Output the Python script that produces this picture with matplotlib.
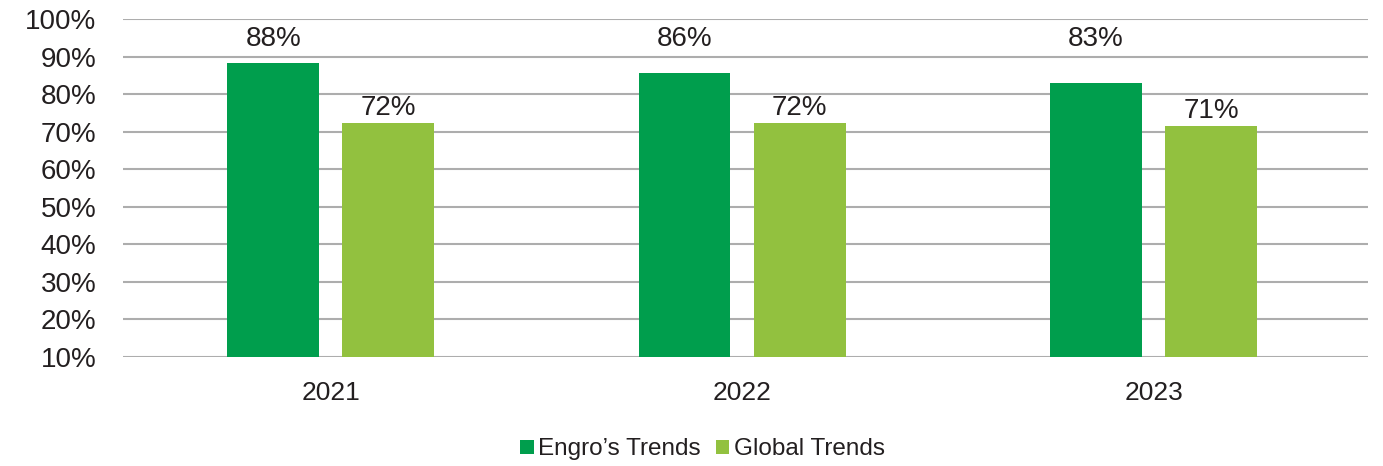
import matplotlib.pyplot as plt
import numpy as np

plt.rcParams['font.family'] = ['Liberation Sans', 'DejaVu Sans']

# dati
years = ['2021', '2022', '2023']
engro = [88.2, 85.6, 82.9]
engro_labels = ['88%', '86%', '83%']
global_trends = [72.2, 72.2, 71.4]
global_labels = ['72%', '72%', '71%']

dark = '#009E4D'
light = '#92C13F'
text_col = '#231F20'

fig = plt.figure(figsize=(13.83, 4.66), dpi=100)
ax = fig.add_axes([0.0889, 0.234, 0.9, 0.725])

x = np.arange(len(years))
w = 0.223
ax.bar(x - 0.14, engro, w, bottom=0, color=dark, label='Engro’s Trends', zorder=3)
ax.bar(x + 0.14, global_trends, w, bottom=0, color=light, label='Global Trends', zorder=3)

# etichette: quelle scure stanno a quota fissa, quelle chiare sopra la barra
for i in range(len(years)):
    ax.text(x[i] - 0.14, 94.8, engro_labels[i], ha='center', va='center',
            fontsize=20, color=text_col)
    ax.annotate(global_labels[i], (x[i] + 0.14, global_trends[i]),
                xytext=(0, 2), textcoords='offset points',
                ha='center', va='bottom', fontsize=20, color=text_col)

ax.set_xlim(-0.505, 2.52)
ax.set_ylim(10, 100)
ax.set_yticks(np.arange(10, 101, 10))
ax.set_yticklabels([f'{v}%' for v in range(10, 101, 10)])
ax.set_xticks(x)
ax.set_xticklabels(years)
ax.tick_params(axis='y', length=0, pad=19, labelsize=20, labelcolor=text_col)
ax.tick_params(axis='x', length=0, pad=17, labelsize=19, labelcolor=text_col)
ax.grid(axis='y', color='#ADADAD', linewidth=1.5, zorder=0)
for s in ax.spines.values():
    s.set_visible(False)

fig.legend(loc='lower center', bbox_to_anchor=(0.508, -0.035), ncol=2, frameon=False,
           fontsize=17.5, handlelength=0.55, handleheight=0.55, handletextpad=0.2,
           columnspacing=0.6, labelcolor=text_col)

fig.savefig('out.png', dpi=100)
